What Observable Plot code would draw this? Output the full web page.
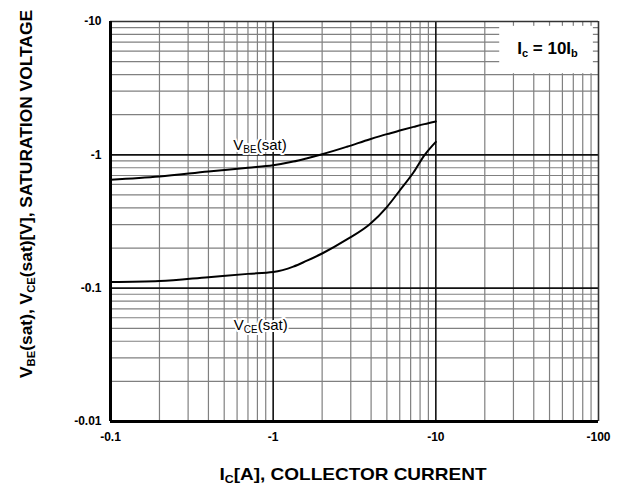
<!DOCTYPE html>
<html>
<head>
<meta charset="utf-8">
<script src="https://cdn.jsdelivr.net/npm/d3@7"></script>
<script src="https://cdn.jsdelivr.net/npm/@observablehq/plot@0.6"></script>
<style>
  html, body { margin: 0; padding: 0; background: #fff; }
  #chart svg { display: block; }
</style>
</head>
<body>
<div id="chart"></div>
<script>
// ---- data ----
const ic  = [0.1, 0.2, 0.4, 0.7, 1, 1.33, 1.6, 2, 2.84, 3.94, 5, 6, 7.3, 8.5, 10];
const vbe = [0.65, 0.687, 0.75, 0.80, 0.835, 0.89, 0.94, 1.01, 1.15, 1.31, 1.43, 1.52, 1.62, 1.70, 1.78];
const vce = [0.111, 0.113, 0.121, 0.128, 0.132, 0.145, 0.16, 0.182, 0.232, 0.303, 0.406, 0.54, 0.74, 0.99, 1.25];

const xTicks = [0.1, 1, 10, 100];
const yTicks = [0.01, 0.1, 1, 10];
const xMajor = [1, 10];
const yMajor = [0.1, 1];
const xMinor = [0.2, 0.3, 0.4, 0.5, 0.6, 0.7, 0.8, 0.9, 2, 3, 4, 5, 6, 7, 8, 9, 20, 30, 40, 50, 60, 70, 80, 90];
const yMinor = [0.02, 0.03, 0.04, 0.05, 0.06, 0.07, 0.08, 0.09, 0.2, 0.3, 0.4, 0.5, 0.6, 0.7, 0.8, 0.9, 2, 3, 4, 5, 6, 7, 8, 9];

const seriesVBE = ic.map((x, i) => ({x, y: vbe[i]}));
const seriesVCE = ic.map((x, i) => ({x, y: vce[i]}));

const font = "'Liberation Sans', Arial, sans-serif";

const plot = Plot.plot({
  width: 627,
  height: 488,
  marginTop: 21,
  marginRight: 29,
  marginBottom: 67,
  marginLeft: 110,
  style: {fontFamily: font, color: "#000", background: "#fff"},
  x: {type: "log", domain: [0.1, 100]},
  y: {type: "log", domain: [0.01, 10]},
  marks: [
    Plot.ruleX(xMinor, {stroke: "#808080", strokeWidth: 1.2}),
    Plot.ruleY(yMinor, {stroke: "#808080", strokeWidth: 1.2}),
    Plot.rect([{a: 24.7, b: 93, c: 4.06, d: 9.2}], {x1: "a", x2: "b", y1: "c", y2: "d", fill: "#fff"}),
    Plot.ruleX(xMajor, {stroke: "#111", strokeWidth: 1.6}),
    Plot.ruleY(yMajor, {stroke: "#111", strokeWidth: 1.6}),
    Plot.ruleX([100], {stroke: "#333", strokeWidth: 1.6}),
    Plot.ruleY([10], {stroke: "#333", strokeWidth: 1.6}),
    Plot.ruleX([0.1], {stroke: "#000", strokeWidth: 3}),
    Plot.ruleY([0.01], {stroke: "#000", strokeWidth: 3}),
    Plot.line(seriesVBE, {x: "x", y: "y", stroke: "#000", strokeWidth: 2, curve: "monotone-x"}),
    Plot.line(seriesVCE, {x: "x", y: "y", stroke: "#000", strokeWidth: 2, curve: "monotone-x"}),
    Plot.text([{x: 0.83, y: 1.19, t: "VBE(sat)"}], {x: "x", y: "y", text: "t", fontSize: 15, fill: "#000", stroke: "#fff", strokeWidth: 4}),
    Plot.text([{x: 0.838, y: 0.0527, t: "VCE(sat)"}], {x: "x", y: "y", text: "t", fontSize: 15, fill: "#000", stroke: "#fff", strokeWidth: 4}),
    Plot.text([{x: 48.6, y: 6.27, t: "Ic = 10Ib"}], {x: "x", y: "y", text: "t", fontSize: 17, fontWeight: "bold", fill: "#000"}),
    Plot.axisX({ticks: xTicks, tickFormat: d => "-" + d, tickSize: 0, tickPadding: 11, label: null, fontSize: 12, fontWeight: "bold"}),
    Plot.axisY({ticks: yTicks, tickFormat: d => "-" + d, tickSize: 0, tickPadding: 9, label: null, fontSize: 12, fontWeight: "bold"})
  ]
});

const svg = d3.select(plot);

// rebuild a text element with subscript parts
function withSubs(sel, parts, subSize) {
  sel.text("");
  let shifted = false;
  parts.forEach(([s, sub]) => {
    const t = sel.append("tspan").text(s);
    if (sub && !shifted) { t.attr("dy", 3).attr("font-size", subSize); shifted = true; }
    else if (sub) { t.attr("font-size", subSize); }
    else if (shifted) { t.attr("dy", -3); shifted = false; }
  });
}

svg.selectAll("text").each(function () {
  const el = d3.select(this);
  const s = el.text();
  if (s === "VBE(sat)") withSubs(el, [["V", false], ["BE", true], ["(sat)", false]], 10);
  else if (s === "VCE(sat)") withSubs(el, [["V", false], ["CE", true], ["(sat)", false]], 10);
  else if (s === "Ic = 10Ib") withSubs(el, [["I", false], ["c", true], [" = 10I", false], ["b", true]], 11);
});

// axis titles
const xt = svg.append("text")
  .attr("x", 353).attr("y", 480)
  .attr("text-anchor", "middle")
  .attr("font-family", font).attr("font-weight", "bold").attr("font-size", 17)
  .attr("fill", "#000");
withSubs(xt, [["I", false], ["C", true], ["[A], COLLECTOR CURRENT", false]], 11);
xt.attr("textLength", 267).attr("lengthAdjust", "spacingAndGlyphs");

const yt = svg.append("text")
  .attr("transform", "translate(32,194) rotate(-90)")
  .attr("text-anchor", "middle")
  .attr("font-family", font).attr("font-weight", "bold").attr("font-size", 17)
  .attr("fill", "#000");
withSubs(yt, [["V", false], ["BE", true], ["(sat), V", false], ["CE", true], ["(sat)[V], SATURATION VOLTAGE", false]], 11);
yt.attr("textLength", 368).attr("lengthAdjust", "spacingAndGlyphs");

document.getElementById("chart").appendChild(plot);
</script>
</body>
</html>
